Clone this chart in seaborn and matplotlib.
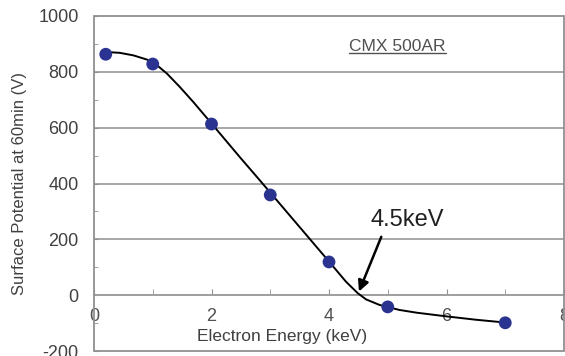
import matplotlib
matplotlib.use("Agg")
import matplotlib.pyplot as plt
import seaborn as sns
import pandas as pd
from matplotlib.ticker import MultipleLocator
from matplotlib.patches import Rectangle
from matplotlib.lines import Line2D

# ---- data ----
energy_pts = [0.2, 1, 2, 3, 4, 5, 7]
potential_pts = [863, 828, 613, 359, 119, -42, -99]

curve_x = [0.22, 0.44, 0.67, 0.9, 1.07, 1.24, 1.46, 1.69, 1.92, 2.14, 2.48,
           2.82, 3.16, 3.5, 3.67, 4.01, 4.29, 4.49, 4.63, 4.86, 5.2, 5.5,
           6.0, 6.5, 7.05]
curve_y = [871, 868, 859, 844, 824, 794, 746, 692, 635, 580, 495,
           412, 328, 244, 202, 118, 48, 7, -15, -35, -53, -63,
           -76, -88, -99]

x_ticks = [0, 2, 4, 6, 8]
y_ticks = [-200, 0, 200, 400, 600, 800, 1000]

sns.set_style("white")
plt.rcParams['font.family'] = ['Liberation Sans', 'DejaVu Sans']
plt.rcParams['axes.unicode_minus'] = False

pts = pd.DataFrame({"x": energy_pts, "y": potential_pts})
crv = pd.DataFrame({"x": curve_x, "y": curve_y})

fig = plt.figure(figsize=(5.65, 3.56), dpi=100)
ax = fig.add_axes([94/565, 1-351/356, (564-94)/565, (351-16)/356])

grid_c = '#a0a0a0'
for yv in y_ticks[1:-1]:
    ax.axhline(yv, color=grid_c, lw=1.3, zorder=0)

sns.lineplot(data=crv, x="x", y="y", ax=ax, color='black', lw=1.4,
             estimator=None, sort=False, zorder=3)
sns.scatterplot(data=pts, x="x", y="y", ax=ax, color='#2b3391', s=85,
                edgecolor='none', zorder=4)

ax.set_xlim(0, 8)
ax.set_ylim(-200, 1000)
ax.set_xticks(x_ticks)
ax.xaxis.set_minor_locator(MultipleLocator(1))
ax.set_yticks(y_ticks)
ax.yaxis.set_minor_locator(MultipleLocator(100))

for s in ['top', 'right', 'left', 'bottom']:
    ax.spines[s].set_visible(False)
ax.spines['bottom'].set_visible(True)
ax.spines['bottom'].set_position(('data', 0))
ax.spines['bottom'].set_color(grid_c)
ax.spines['bottom'].set_linewidth(1.3)
ax.add_patch(Rectangle((0, 0), 1, 1, transform=ax.transAxes, fill=False,
                       edgecolor='#909090', lw=1.3, clip_on=False, zorder=5))

ax.tick_params(axis='x', which='both', direction='in', length=4, color='#909090',
               labelsize=13, labelcolor='#505050', pad=9)
ax.tick_params(axis='y', which='both', direction='in', length=3, color='#909090',
               labelsize=13, labelcolor='#404040', pad=11)
ax.tick_params(axis='y', which='both', left=True)
ax.tick_params(axis='x', which='both', bottom=True)

ax.set_xlabel("Electron Energy (keV)", fontsize=12.5, color='#404040')
ax.xaxis.set_label_coords(0.40, 0.042)
ax.xaxis.label.set_va('center')
ax.set_ylabel("Surface Potential at 60min (V)", fontsize=12, color='#404040')
ax.yaxis.set_label_coords(-0.158, 0.5)
ax.yaxis.label.set_va('center')

title = ax.text(5.17, 890, 'CMX 500AR', fontsize=12.5,
                color='#505050', ha='center', va='center')

ax.text(5.33, 269, "4.5keV", fontsize=17, color='#202020',
        ha='center', va='center')
ax.annotate("", xy=(4.51, 13), xytext=(4.89, 209),
            arrowprops=dict(arrowstyle='-|>', color='black', lw=1.8,
                            mutation_scale=16, shrinkA=0, shrinkB=0))

# underline for the title text
fig.canvas.draw()
bb = title.get_window_extent()
inv = fig.transFigure.inverted()
(x0, y0), (x1, _) = inv.transform([(bb.x0, bb.y0 + 1), (bb.x1, bb.y0)])
fig.add_artist(Line2D([x0, x1], [y0, y0], transform=fig.transFigure,
                      color='#505050', lw=1.0))

fig.savefig("out.png", dpi=100)
